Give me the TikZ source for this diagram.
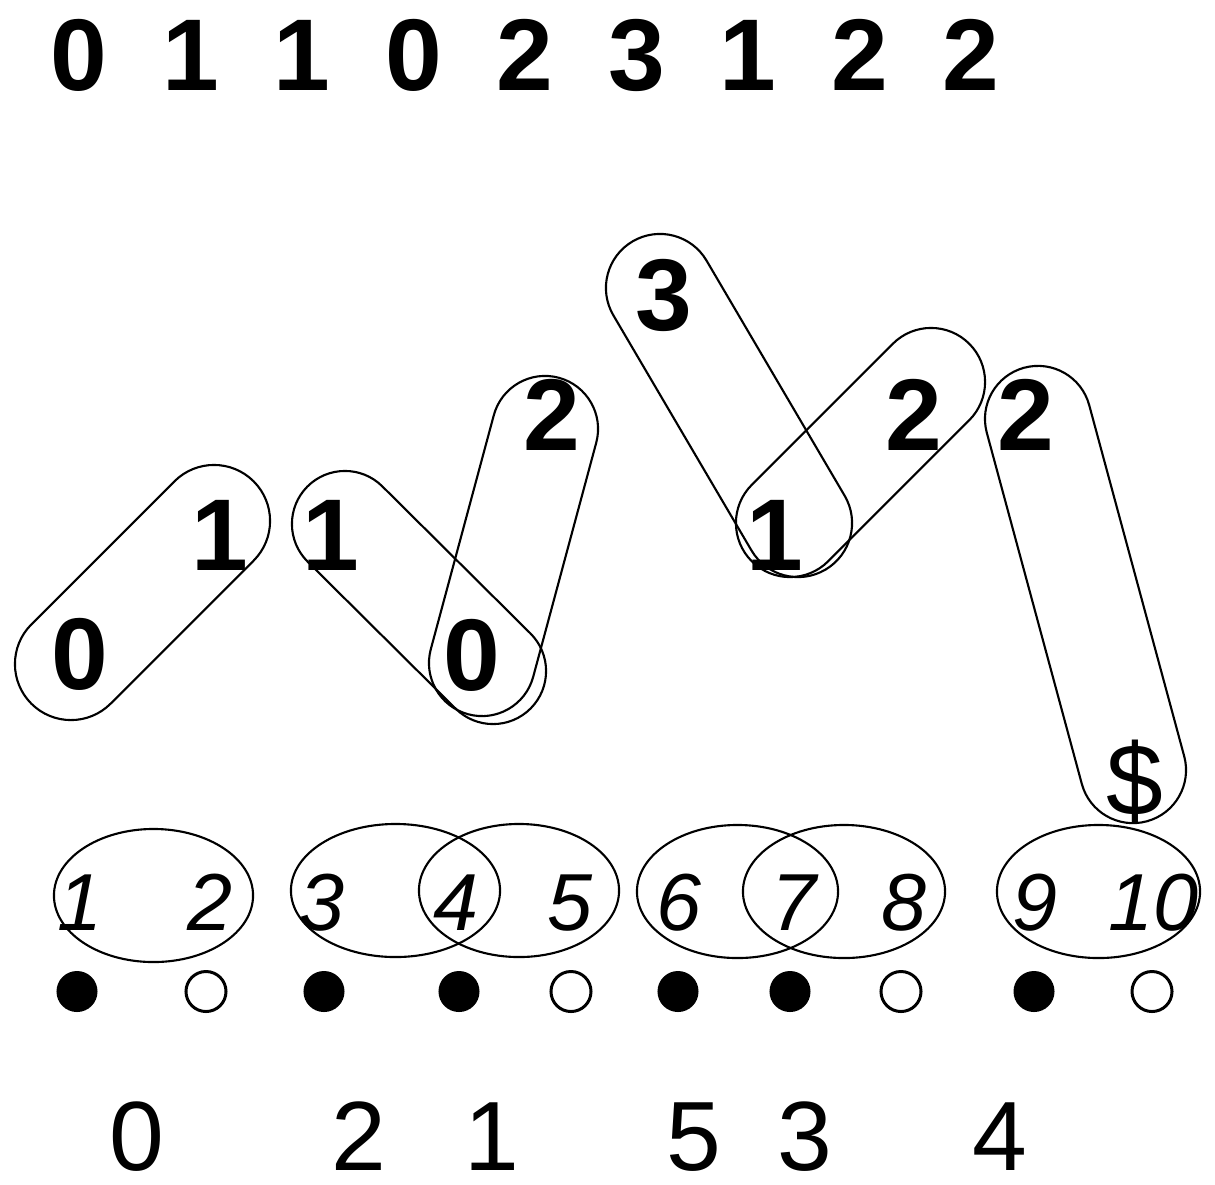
\documentclass[tikz,border=0pt]{standalone}
\usepackage{fontspec}
\setmainfont{Liberation Sans}
\usetikzlibrary{shapes.geometric}

\begin{document}
\begin{tikzpicture}[x=0.01cm, y=-0.01cm, line width=0.6pt,
		bigdigit/.style={font=\fontsize{29pt}{29pt}\selectfont\bfseries, inner sep=0pt, anchor=base},
		idx/.style={font=\fontsize{23pt}{23pt}\selectfont\itshape, inner sep=0pt, anchor=base},
		rank/.style={font=\fontsize{28pt}{28pt}\selectfont, inner sep=0pt, anchor=base},
		capsule/.style={draw, rectangle, inner sep=0pt},
		grp/.style={draw, ellipse, inner sep=0pt, minimum height=1.33cm},
		dotfull/.style={circle, fill=black, inner sep=0pt, minimum size=0.41cm},
		dotopen/.style={circle, draw, line width=0.85pt, inner sep=0pt, minimum size=0.40cm}]
		\useasboundingbox (0,0) rectangle (1215,1184);
		% text row
		\foreach \d [count=\i] in {0,1,1,0,2,3,1,2,2}
			\node[bigdigit] (t\i) at ({79+111.5*(\i-1)},90) {\d};
		% pairs
		\node[bigdigit] (m1) at (80,689) {0};
		\node[bigdigit] (m2) at (220,570) {1};
		\node[bigdigit] (m3) at (331,570) {1};
		\node[bigdigit] (m4) at (472,690) {0};
		\node[bigdigit] (m5) at (552,450) {2};
		\node[bigdigit] (m6) at (664,330) {3};
		\node[bigdigit] (m7) at (775,570) {1};
		\node[bigdigit] (m8) at (914,450) {2};
		\node[bigdigit] (m9) at (1026,450) {2};
		\node[font=\fontsize{29pt}{29pt}\selectfont, inner sep=0pt, anchor=base] (m10) at (1135,815) {\$};
		\node[capsule, minimum width=3.142cm, minimum height=1.12cm, rounded corners=0.56cm, rotate=45] (c01) at (142.5,592.5) {};
		\node[capsule, minimum width=3.146cm, minimum height=1.06cm, rounded corners=0.53cm, rotate=-44.8] (c10) at (419,597.5) {};
		\node[capsule, minimum width=3.483cm, minimum height=1.06cm, rounded corners=0.53cm, rotate=74.93] (c02) at (513.5,546) {};
		\node[capsule, minimum width=3.805cm, minimum height=1.08cm, rounded corners=0.54cm, rotate=-59.57] (c31) at (729,405.5) {};
		\node[capsule, minimum width=3.074cm, minimum height=1.08cm, rounded corners=0.54cm, rotate=45] (c12) at (860.5,452.5) {};
		\node[capsule, minimum width=4.696cm, minimum height=1.06cm, rounded corners=0.53cm, rotate=-74.86] (c2d) at (1085.5,594.5) {};
		% positions
		\foreach \x [count=\i] in {80,210,322,456,570,679,794,904,1035,1153}
			\node[idx] (n\i) at (\x,930) {\i};
		\node[grp, minimum width=1.99cm] (e12) at (153.5,895.5) {};
		\node[grp, minimum width=2.09cm] (e34) at (395.5,890.5) {};
		\node[grp, minimum width=2.00cm] (e45) at (519,890.5) {};
		\node[grp, minimum width=2.01cm] (e67) at (737.5,891.5) {};
		\node[grp, minimum width=2.02cm] (e78) at (844,891.5) {};
		\node[grp, minimum width=2.03cm] (e910) at (1098.5,891.5) {};
		\foreach \x/\s [count=\i] in {77/dotfull,206/dotopen,324/dotfull,459/dotfull,571/dotopen,
				678/dotfull,790/dotfull,901/dotopen,1034/dotfull,1152/dotopen}
			\node[\s] (p\i) at (\x,991.5) {};
		% ranks
		\foreach \x/\d in {137/0,359/2,492/1,694/5,805/3,1000/4}
			\node[rank] (r\d) at (\x,1170) {\d};
	\end{tikzpicture}
\end{document}
